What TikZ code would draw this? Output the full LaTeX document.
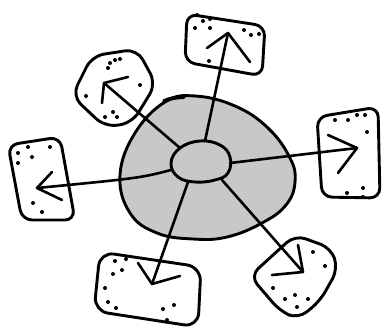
\documentclass[tikz,border=0pt]{standalone}
\begin{document}
\begin{tikzpicture}[x=1pt,y=-1pt,
  sk/.style={line width=2.9pt, line cap=round, line join=round},
  boxs/.style={sk, rounded corners=10pt},
  arr/.style={line width=2.6pt, line cap=round, line join=round}]
\useasboundingbox (0,0) rectangle (385,329);
% central blob
\draw[sk, fill={rgb,255:red,200;green,200;blue,200}] plot[smooth cycle, tension=0.7] coordinates {(120,175) (135,133) (165,102) (195,96) (235,106) (268,128) (290,158) (295,182) (286,205) (262,223) (227,237) (193,239) (157,233) (130,213)};
\draw[line width=3.8pt, line cap=round] (164,101) .. controls (172,98) .. (184,97);
% boxes
\draw[boxs] (187,14) -- (265,26) -- (262,76) -- (185,62) -- cycle;
\draw[boxs] (8,145) -- (60,137) -- (75,220) -- (22,220) -- cycle;
\draw[boxs] (317,117) -- (378,107) -- (380,198) -- (322,197) -- cycle;
\draw[boxs, rounded corners=14pt] (100,252) -- (201,267) -- (198,327) -- (94,311) -- cycle;
\draw[boxs, rounded corners=12pt] (92,56) -- (137,49) -- (156,84) -- (132,123) -- (105,127) -- (72,96) -- cycle;
\draw[boxs, rounded corners=11pt] (250,276) -- (295,235) -- (331,248) -- (338,269) -- (320,301) -- (298,319) -- (280,311) -- cycle;
% inner blob
\draw[sk, fill={rgb,255:red,200;green,200;blue,200}] plot[smooth cycle, tension=0.7] coordinates {(171,163) (180,148) (200,141) (220,145) (230,157) (228,173) (215,180) (195,182) (178,177)};
% arrow endpoints
\coordinate (cT) at (205,141); \coordinate (tT) at (228,33);
\coordinate (cUL) at (180,148); \coordinate (tUL) at (104,83);
\coordinate (cL) at (171,170); \coordinate (tL) at (37,188);
\coordinate (cR) at (230,163); \coordinate (tR) at (357,148);
\coordinate (cB) at (188,182); \coordinate (tB) at (152,284);
\coordinate (cBR) at (222,180); \coordinate (tBR) at (303,272);
\draw[arr] (cT) -- (tT); \draw[arr] (207,48) -- (tT) -- (250,62);
\draw[arr] (cUL) -- (tUL); \draw[arr] (128,77) -- (tUL) -- (102,103);
\draw[arr] (cL) .. controls (140,178) .. (tL); \draw[arr] (52,172) -- (tL) -- (62,200);
\draw[arr] (cR) -- (tR); \draw[arr] (328,135) -- (tR) -- (338,173);
\draw[arr] (cB) -- (tB); \draw[arr] (138,263) -- (tB) -- (180,276);
\draw[arr] (cBR) -- (tBR); \draw[arr] (298,245) -- (tBR) -- (272,275);
% dots
\foreach \p in {(197,15),(203,21),(210,19),(195,28),(210,28),(244,30),(251,35),(259,34),(209,61),
  (110,63),(115,60),(120,59),(108,68),(140,85),(86,96),(113,112),(105,117),(117,117),
  (18,153),(28,147),(50,147),(32,157),(18,163),(33,203),(42,212),
  (335,120),(348,120),(357,115),(365,115),(367,132),(347,193),(363,188),(363,197),
  (115,261),(126,259),(113,274),(122,270),(105,288),(108,302),(116,308),(163,309),(174,305),(167,320),
  (313,252),(325,266),(273,288),(285,299),(295,295),(308,299),(297,307)}
  \fill \p circle (2pt);
\end{tikzpicture}
\end{document}
